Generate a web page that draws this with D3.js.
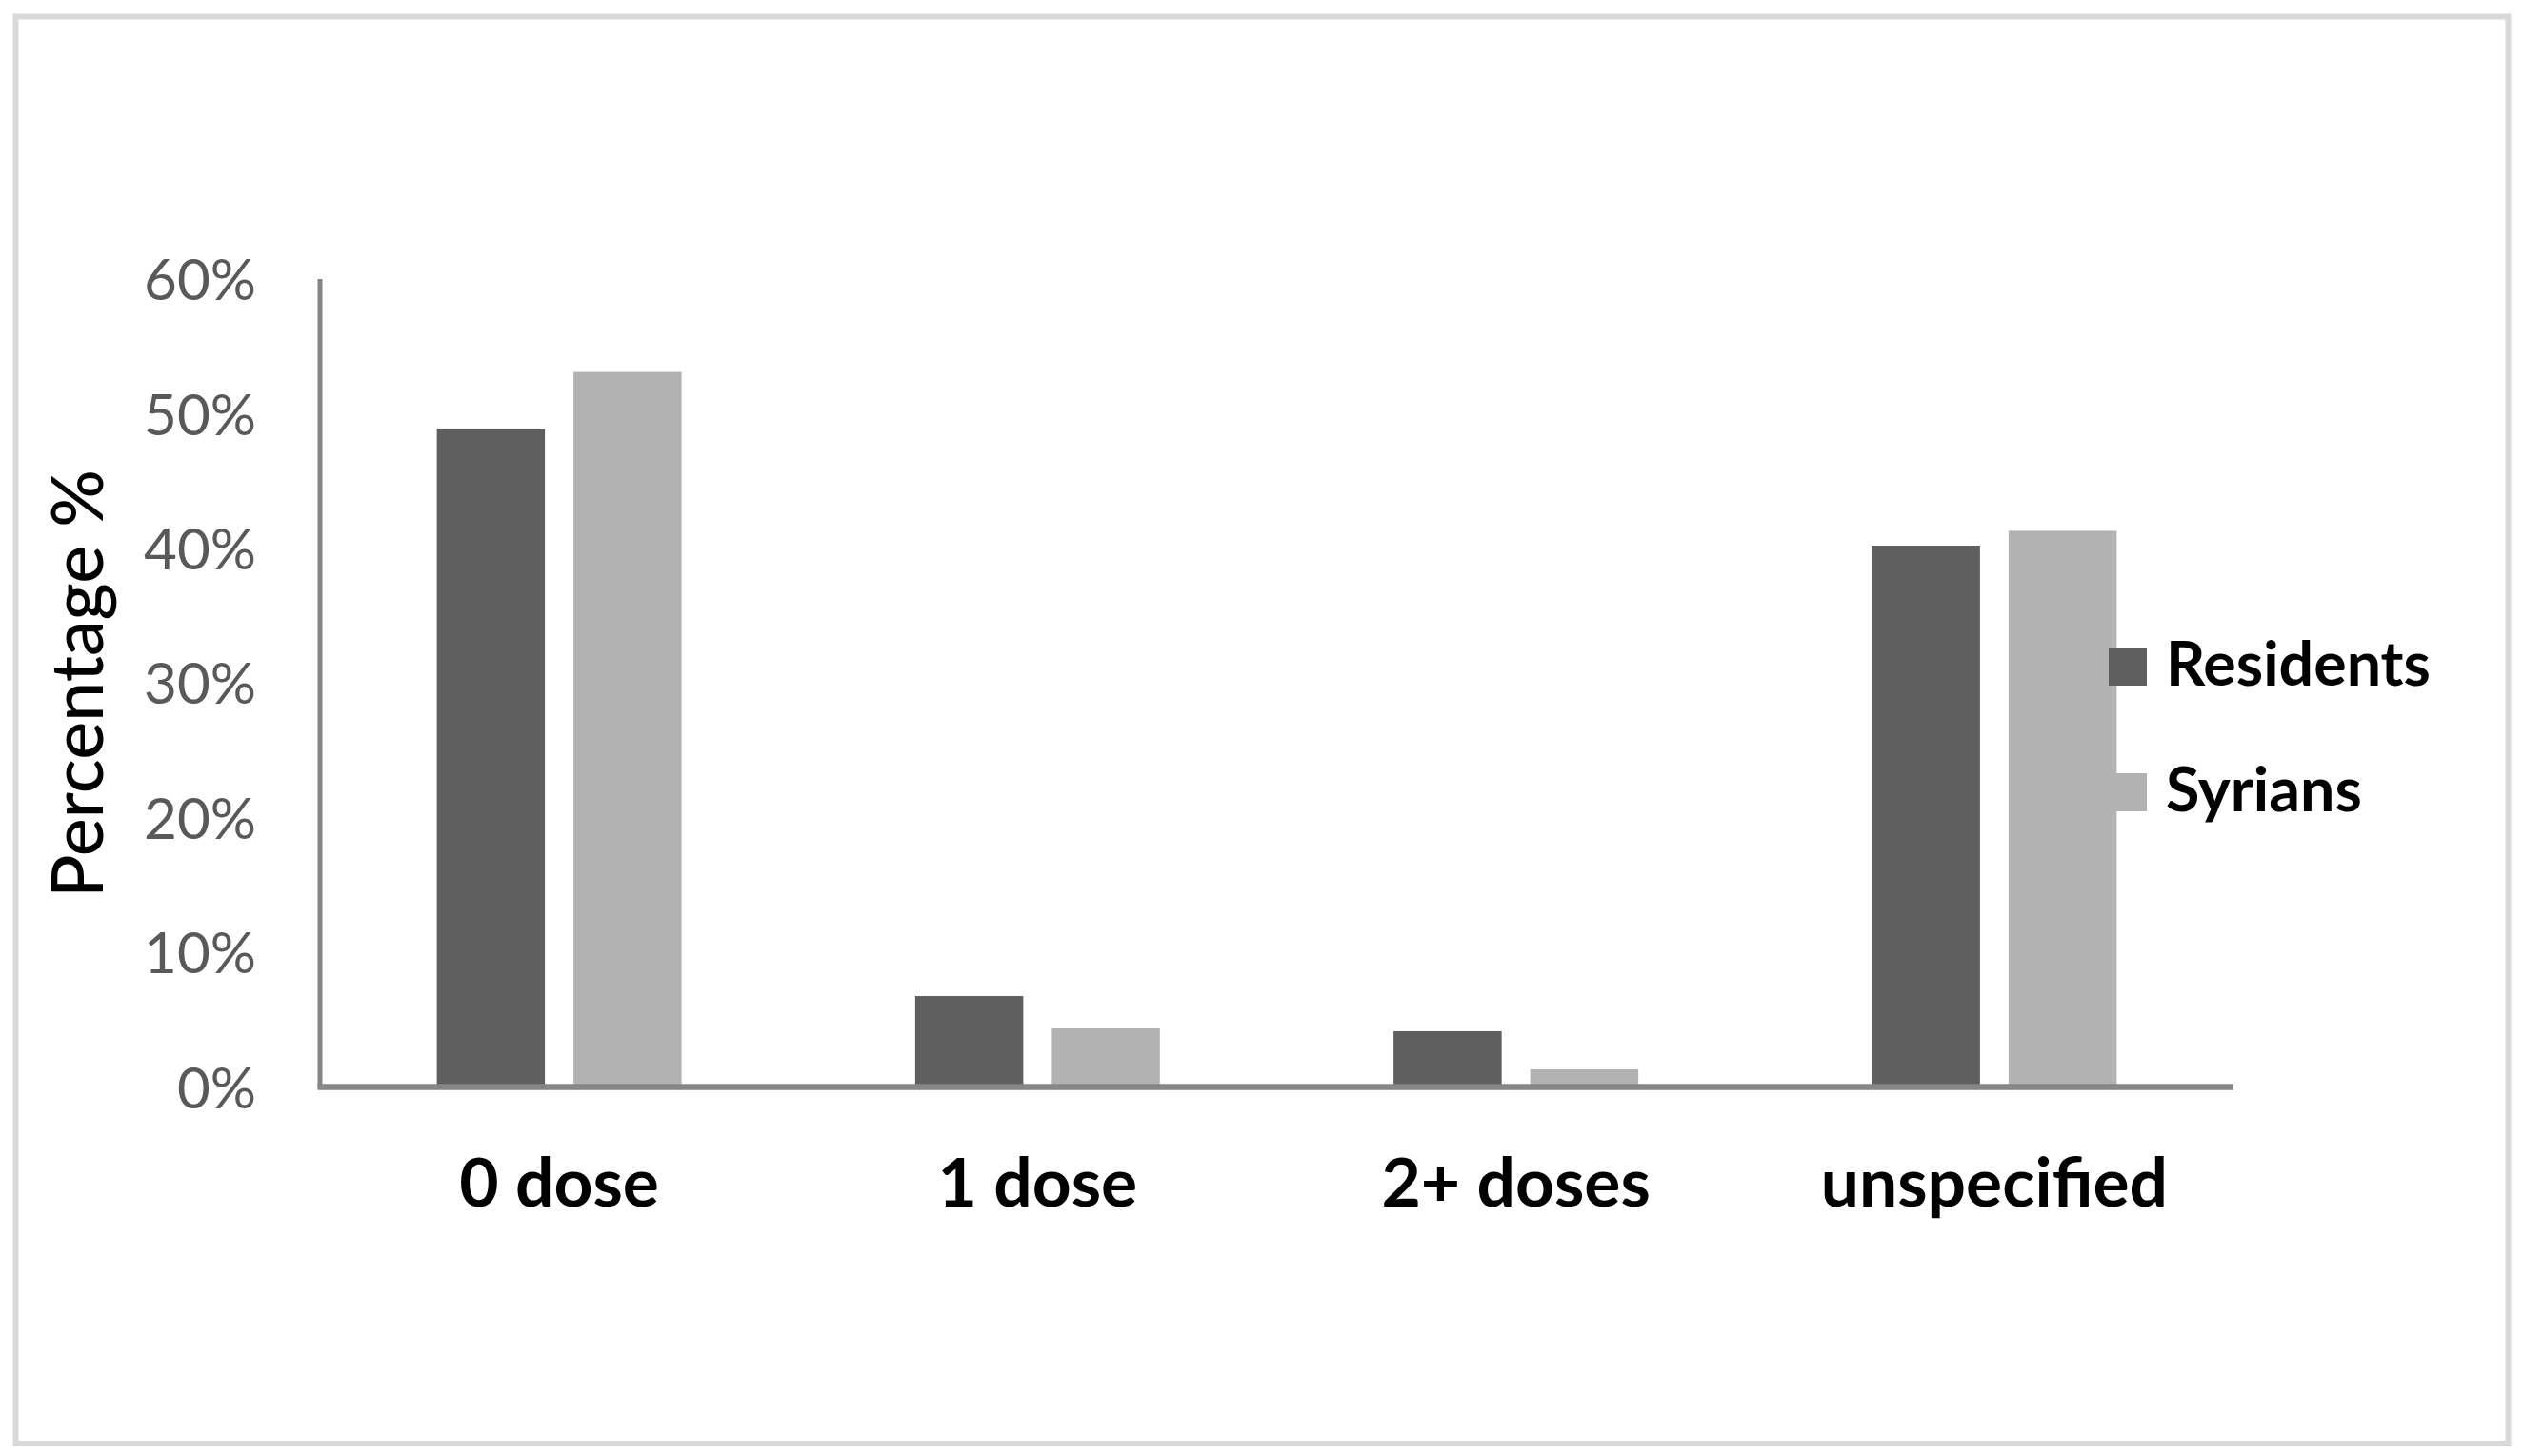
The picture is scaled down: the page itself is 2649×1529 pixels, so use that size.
<!DOCTYPE html>
<html>
<head>
<meta charset="utf-8">
<script src="https://cdn.jsdelivr.net/npm/d3@7"></script>
<style>
  html, body { margin: 0; padding: 0; background: #ffffff; }
  svg { display: block; }
</style>
</head>
<body>
<div id="chart"></div>
<script>
// ---------- data ----------
const categories = ["0 dose", "1 dose", "2+ doses", "unspecified"];
const seriesNames = ["Residents", "Syrians"];
const residents = [0.489, 0.0675, 0.0414, 0.402];
const syrians   = [0.531, 0.0435, 0.0131, 0.413];
const yTicks = [0, 0.1, 0.2, 0.3, 0.4, 0.5, 0.6];
const yTitle = "Percentage %";

// ---------- layout ----------
const W = 2649, H = 1529;
const FONT = "Lato, 'Open Sans', sans-serif";
const colors = { Residents: "#5f5f5f", Syrians: "#b2b2b2" };
const axisColor = "#868686";

const svg = d3.select("#chart").append("svg")
  .attr("width", W).attr("height", H);

svg.append("rect").attr("width", W).attr("height", H).attr("fill", "#fff");

// outer frame
svg.append("rect")
  .attr("x", 16.5).attr("y", 17.5)
  .attr("width", 2617).attr("height", 1498.5)
  .attr("fill", "none").attr("stroke", "#d9d9d9").attr("stroke-width", 6);

// text fitting helper (Calibri substitute matched by width)
function fitSize(strings, weight, targetWidth) {
  const t = svg.append("text").attr("font-family", FONT)
    .attr("font-weight", weight).attr("font-size", 100);
  let total = 0;
  strings.forEach(s => { t.text(s); total += t.node().getComputedTextLength(); });
  t.remove();
  return 100 * targetWidth / total;
}
const tickSize = fitSize(["60%"], 400, 118);
const catSize = fitSize(["0 dose", "1 dose", "2+ doses", "unspecified"], 700, 1066);
const legSize = fitSize(["Residents"], 700, 278);
const titleSize = fitSize([yTitle], 500, 450);

// scales
const plotLeft = 336, plotRight = 2345, yTop = 293, yZero = 1141.5;
const x0 = d3.scaleBand().domain(categories).range([plotLeft, plotRight])
  .paddingInner(0).paddingOuter(0);
const groupW = 257;
const x1 = d3.scaleBand().domain(seriesNames)
  .range([x0.bandwidth() / 2 - groupW / 2, x0.bandwidth() / 2 + groupW / 2])
  .paddingInner(0.209).paddingOuter(0);
const y = d3.scaleLinear().domain([0, 0.6]).range([yZero, yTop]);

// bars
const rows = categories.map((c, i) => ({ cat: c, Residents: residents[i], Syrians: syrians[i] }));
const groups = svg.append("g").selectAll("g").data(rows).join("g")
  .attr("transform", d => `translate(${x0(d.cat)},0)`);
groups.selectAll("rect")
  .data(d => seriesNames.map(k => ({ key: k, value: d[k] })))
  .join("rect")
  .attr("x", d => x1(d.key))
  .attr("width", x1.bandwidth())
  .attr("y", d => y(d.value))
  .attr("height", d => y(0) - y(d.value))
  .attr("fill", d => colors[d.key]);

// y axis
const yAxis = svg.append("g").attr("transform", `translate(${plotLeft},0)`)
  .call(d3.axisLeft(y).tickValues(yTicks).tickFormat(d3.format(".0%"))
    .tickSize(0).tickPadding(67));
yAxis.select(".domain").remove();
yAxis.selectAll("text")
  .attr("font-family", FONT).attr("font-size", tickSize)
  .attr("fill", "#595959").attr("dy", "0.36em");
svg.append("line")
  .attr("x1", plotLeft).attr("x2", plotLeft)
  .attr("y1", y(0.6)).attr("y2", y(0))
  .attr("stroke", axisColor).attr("stroke-width", 5);

// x axis
const xAxis = svg.append("g").attr("transform", `translate(0,${yZero})`)
  .call(d3.axisBottom(x0).tickSize(0).tickPadding(125.5));
xAxis.select(".domain").remove();
xAxis.selectAll("text")
  .attr("font-family", FONT).attr("font-weight", 700)
  .attr("font-size", catSize).attr("fill", "#000").attr("dy", 0);
svg.append("line")
  .attr("x1", plotLeft - 2.5).attr("x2", plotRight)
  .attr("y1", y(0)).attr("y2", y(0))
  .attr("stroke", axisColor).attr("stroke-width", 6.5);

// y title
svg.append("text")
  .attr("transform", `translate(108,718) rotate(-90)`)
  .attr("text-anchor", "middle")
  .attr("font-family", FONT).attr("font-weight", 500)
  .attr("font-size", titleSize)
  .attr("fill", "#000")
  .text(yTitle);

// legend
const legend = svg.append("g").selectAll("g").data(seriesNames).join("g")
  .attr("transform", (d, i) => `translate(2214,${680 + i * 132})`);
legend.append("rect").attr("width", 40).attr("height", 40)
  .attr("fill", d => colors[d]);
legend.append("text").attr("x", 60).attr("y", 40)
  .attr("font-family", FONT).attr("font-weight", 700)
  .attr("font-size", legSize).attr("fill", "#000")
  .text(d => d);
</script>
</body>
</html>
